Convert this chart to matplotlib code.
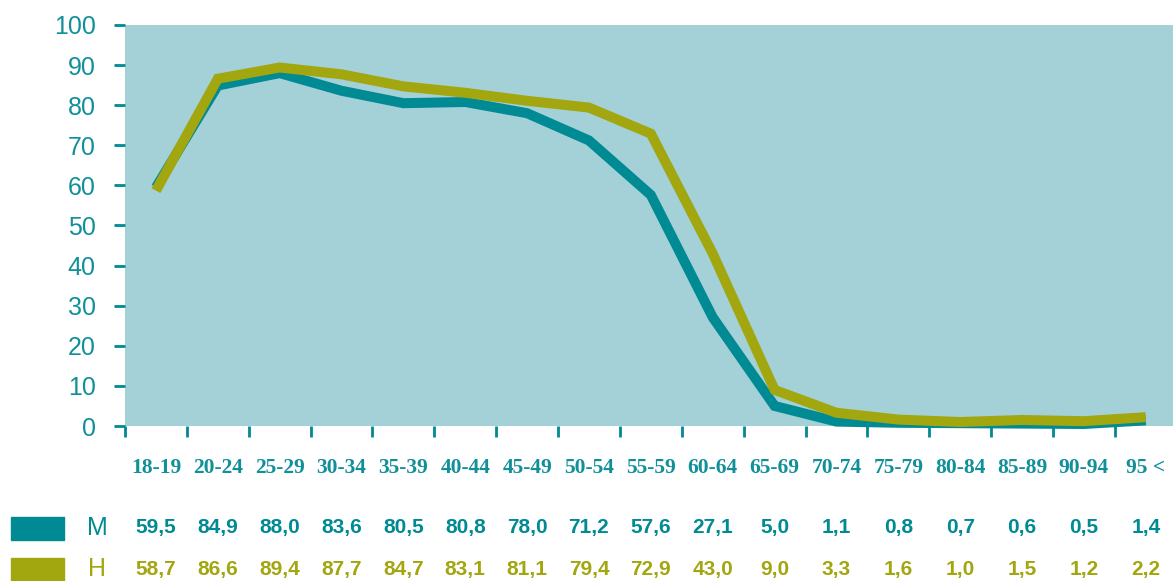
import numpy as np
import matplotlib
matplotlib.use("Agg")
import matplotlib.pyplot as plt
from matplotlib.patches import Rectangle
from matplotlib.transforms import blended_transform_factory

# data
ages = ['18-19', '20-24', '25-29', '30-34', '35-39', '40-44', '45-49', '50-54',
        '55-59', '60-64', '65-69', '70-74', '75-79', '80-84', '85-89', '90-94', '95 <']
m_vals = [59.5, 84.9, 88.0, 83.6, 80.5, 80.8, 78.0, 71.2, 57.6, 27.1, 5.0, 1.1, 0.8, 0.7, 0.6, 0.5, 1.4]
h_vals = [58.7, 86.6, 89.4, 87.7, 84.7, 83.1, 81.1, 79.4, 72.9, 43.0, 9.0, 3.3, 1.6, 1.0, 1.5, 1.2, 2.2]
series_names = ['M', 'H']

teal = '#008a93'
olive = '#a2a60f'
bg = '#a3d1d7'
txt_teal = '#11909a'

W, H = 1173, 581
fig = plt.figure(figsize=(W / 100, H / 100), dpi=100)
ax = fig.add_axes([125 / W, 1 - 426 / H, 1 - 125 / W, (426 - 25) / H])
ax.set_facecolor(bg)

x = np.arange(len(ages))
ax.plot(x, m_vals, color=teal, lw=7.2, solid_capstyle='butt', solid_joinstyle='miter',
        zorder=3, clip_on=False)
ax.plot(x, h_vals, color=olive, lw=7.2, solid_capstyle='butt', solid_joinstyle='miter',
        zorder=4, clip_on=False)

ax.set_xlim(-0.5, len(ages) - 1 + 0.44)
ax.set_ylim(0, 100)
for s in ax.spines.values():
    s.set_visible(False)

# y axis
ax.set_yticks(np.arange(0, 101, 10))
ax.tick_params(axis='y', length=8, width=2, color=teal, pad=13, labelcolor=txt_teal)
for lab in ax.get_yticklabels():
    lab.set_fontfamily('Liberation Sans')
    lab.set_fontsize(18)

# x axis: labels at centres, marks at boundaries
ax.set_xticks(x)
ax.set_xticklabels(ages, fontfamily='Liberation Serif', fontweight='bold', fontsize=15.5, color=txt_teal)
ax.tick_params(axis='x', which='major', length=0, pad=23)
ax.set_xticks(np.arange(-0.5, len(ages) - 1, 1.0), minor=True)
ax.tick_params(axis='x', which='minor', length=8, width=2, color=teal, direction='out')

# table rows below chart
trans = blended_transform_factory(ax.transData, fig.transFigure)
rows = [(series_names[0], m_vals, teal, 528), (series_names[1], h_vals, olive, 569)]
for name, vals, col, ypix in rows:
    yf = 1 - ypix / H
    fig.patches.append(Rectangle((11 / W, yf - 11.5 / H), 53 / W, 23 / H,
                                 transform=fig.transFigure, color=col, zorder=1))
    fig.text(97 / W, yf, name, ha='center', va='center', color=col,
             fontfamily='Liberation Sans', fontsize=18)
    for xi, v in zip(x, vals):
        fig.text(xi, yf, f'{v:.1f}'.replace('.', ','), transform=trans,
                 ha='center', va='center', color=col,
                 fontfamily='Liberation Sans', fontweight='bold', fontsize=15)

fig.savefig('out.png', dpi=100)
